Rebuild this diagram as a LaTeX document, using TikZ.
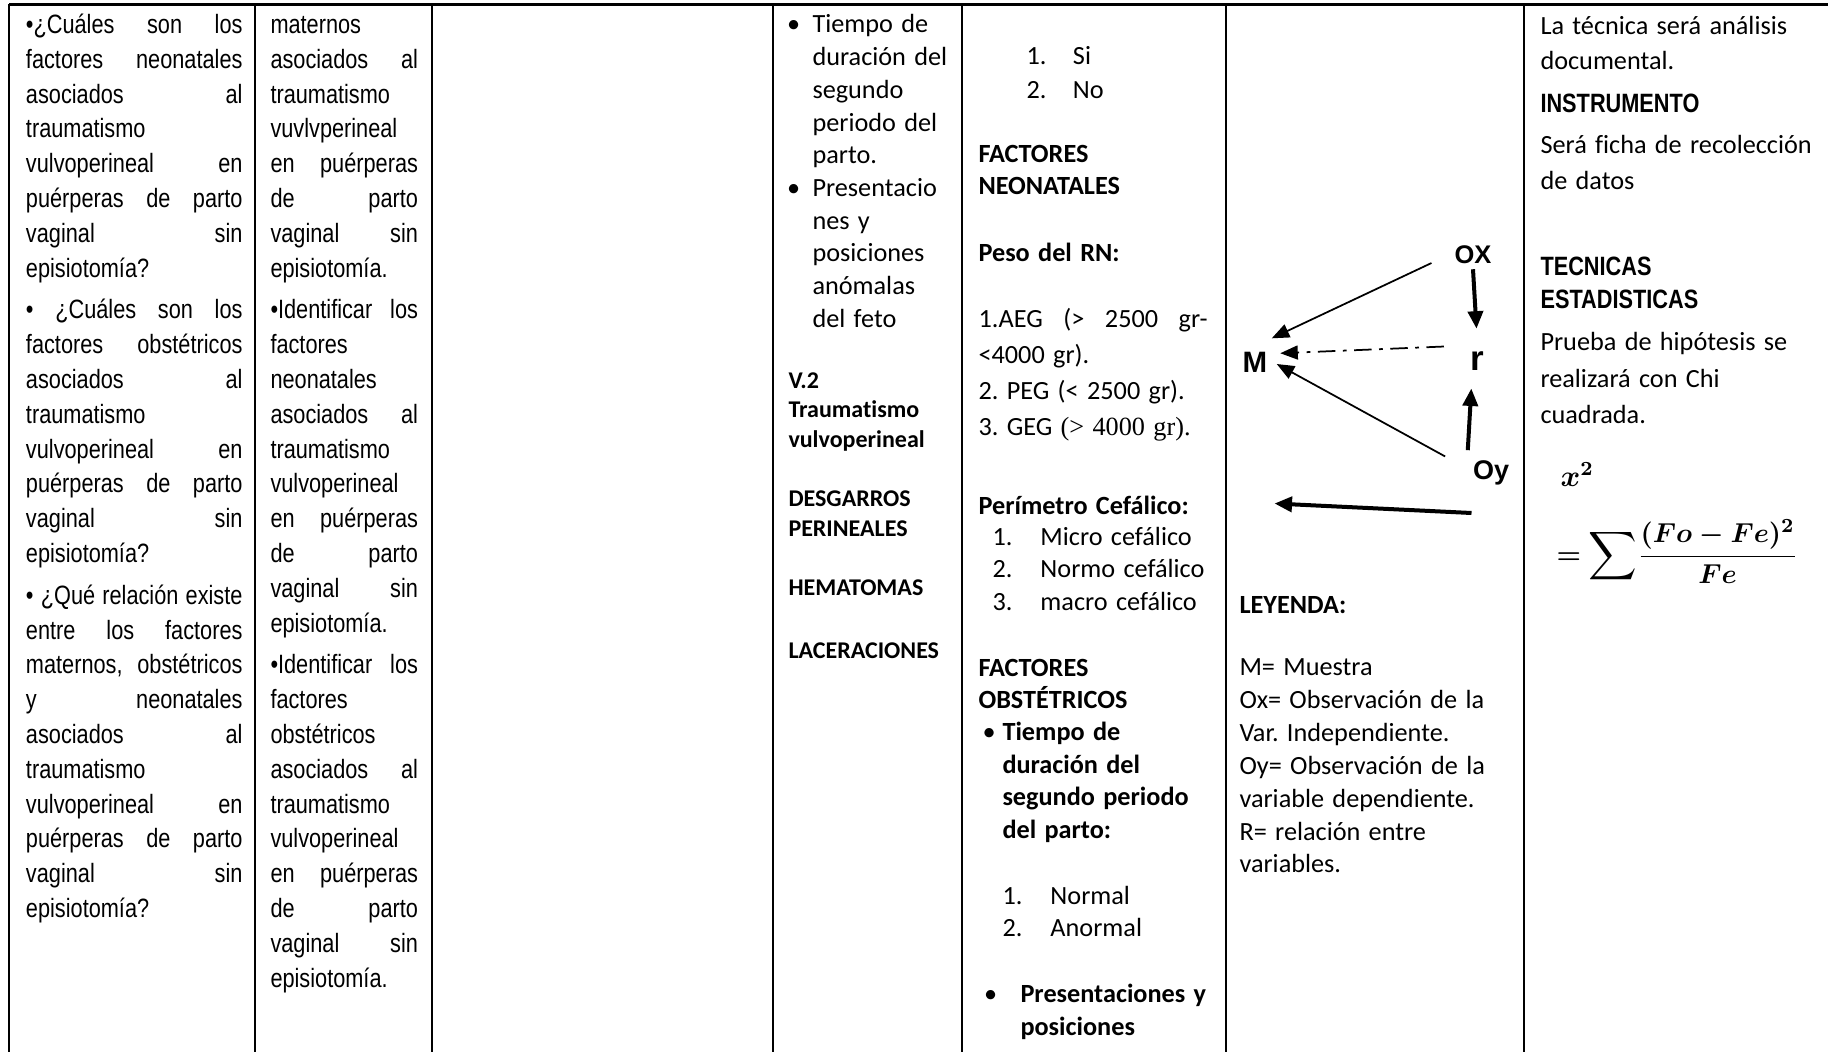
\documentclass[tikz,border=0pt]{standalone}
\usepackage[no-math]{fontspec}
\setmainfont{Carlito}[Ligatures=CommonOff]
\newfontfamily\narrowfont[FakeStretch=0.82]{Liberation Sans}
\newfontfamily\arialfont{Liberation Sans}
\newfontfamily\timesfont{Liberation Serif}
\usetikzlibrary{arrows.meta}
\tikzset{
  tabline/.style={line width=1.1pt},
  ntext/.style={inner sep=0pt, anchor=base west, align=justify, text width=#1,
    execute at begin node={\narrowfont\fontsize{10.6}{13.92}\selectfont\frenchspacing\hyphenpenalty=10000 \tolerance=10000 }},
  nhead/.style={inner sep=0pt, anchor=base west, align=left, text width=110pt,
    execute at begin node={\narrowfont\bfseries\fontsize{10.6}{#1}\selectfont}},
  nhead/.default=13.92pt,
  ctext/.style={inner sep=0pt, anchor=base west, align=left, text width=110pt,
    execute at begin node={\fontsize{10.5}{#1}\selectfont\frenchspacing}},
  ctext/.default=13.08pt,
  dnode/.style={font=\arialfont\bfseries\fontsize{10.2}{12}\selectfont, inner sep=2pt, anchor=base},
  thinarr/.style={line width=0.7pt, -{Triangle[length=7pt,width=5.6pt]}},
  thickarr/.style={line width=1.6pt, -{Triangle[length=7pt,width=6pt]}},
  dashdot/.style={thinarr, dash pattern=on 7pt off 3pt on 1.5pt off 3pt}
}
\begin{document}
\begin{tikzpicture}[x=0.4pt,y=-0.4pt]
\useasboundingbox (0,0) rectangle (1828,1052);
\draw[tabline] (9,4.5) -- (1828,4.5);
\foreach \cx in {9,255,432,773,962,1226,1524}
\draw[tabline] (\cx,4.5) -- (\cx,1052);
\node[ntext=86.6pt] (preguntas) at (25.5,33.5) {•¿Cuáles son los\linebreak factores neonatales\linebreak asociados al\linebreak traumatismo\linebreak vulvoperineal en\linebreak puérperas de parto\linebreak vaginal sin\linebreak episiotomía?\par\vspace{2.8pt}
• ¿Cuáles son los\linebreak factores obstétricos\linebreak asociados al\linebreak traumatismo\linebreak vulvoperineal en\linebreak puérperas de parto\linebreak vaginal sin\linebreak episiotomía?\par\vspace{2.8pt}
• ¿Qué relación existe\linebreak entre los factores\linebreak maternos, obstétricos\linebreak y neonatales\linebreak asociados al\linebreak traumatismo\linebreak vulvoperineal en\linebreak puérperas de parto\linebreak vaginal sin\linebreak episiotomía?};
\node[ntext=59pt] (objetivos) at (270,33.5) {maternos\linebreak asociados al\linebreak traumatismo\linebreak vuvlvperineal\linebreak en puérperas\linebreak de parto\linebreak vaginal sin\linebreak episiotomía.\par\vspace{2.8pt}
•Identificar los\linebreak factores\linebreak neonatales\linebreak asociados al\linebreak traumatismo\linebreak vulvoperineal\linebreak en puérperas\linebreak de parto\linebreak vaginal sin\linebreak episiotomía.\par\vspace{2.8pt}
•Identificar los\linebreak factores\linebreak obstétricos\linebreak asociados al\linebreak traumatismo\linebreak vulvoperineal\linebreak en puérperas\linebreak de parto\linebreak vaginal sin\linebreak episiotomía.};
\node[ctext] (bul1) at (786.5,33) {•};
\node[ctext] (bul2) at (786.5,196.5) {•};
\node[ctext] (dimobs) at (812,33) {Tiempo de\\duración del\\segundo\\periodo del\\parto.\\Presentacio\\nes y\\posiciones\\anómalas\\del feto};
\node[ctext] (vardos) at (788,388) {\fontsize{9.6}{11.88}\selectfont\bfseries V.2\\Traumatismo\\vulvoperineal\\[11.88pt]DESGARROS\\PERINEALES\\[11.88pt]HEMATOMAS\\[11.88pt]LACERACIONES};
\node[ctext=13.6pt] (sino) at (1026,65) {\makebox[18.6pt][l]{1.}Si\\\makebox[18.6pt][l]{2.}No};
\node[ctext=12.6pt] (neo) at (978,163) {\bfseries FACTORES\\NEONATALES};
\node[ctext] (peso) at (978,261.5) {\bfseries Peso del RN:};
\node[ctext=14.5pt] (pesos) at (978,327) {\hbox to 91.6pt{1.AEG\hfill(>\hfill2500\hfill gr-}\\<4000 gr).\\2. PEG (< 2500 gr).\\3. GEG {\timesfont (> 4000 gr).}};
\node[ctext] (peri) at (978,514) {\bfseries Perímetro Cefálico:};
\node[ctext=13pt] (peris) at (992,545) {\makebox[19.2pt][l]{1.}Micro cefálico\\\makebox[19.2pt][l]{2.}Normo cefálico\\\makebox[19.2pt][l]{3.}macro cefálico};
\node[ctext=12.8pt] (obs) at (978,676) {\bfseries FACTORES\\OBSTÉTRICOS};
\node[ctext] (bul3) at (982,740.5) {•};
\node[ctext] (tiempo) at (1002,740.5) {\bfseries Tiempo de\\duración del\\segundo periodo\\del parto:};
\node[ctext=13pt] (normal) at (1002,904) {\makebox[19.2pt][l]{1.}Normal\\\makebox[19.2pt][l]{2.}Anormal};
\node[ctext] (bul4) at (983.5,1002.5) {•};
\node[ctext=13pt] (presen) at (1020,1002.5) {\bfseries Presentaciones y\\posiciones};
\node[dnode, font=\arialfont\bfseries\fontsize{11.8}{14}\selectfont] (M) at (1255,372) {M};
\node[dnode] (OX) at (1473,263.5) {OX};
\node[dnode, font=\arialfont\bfseries\fontsize{14}{16}\selectfont] (r) at (1477.5,370) {r};
\node[dnode, font=\arialfont\bfseries\fontsize{10.8}{13}\selectfont] (Oy) at (1491,479.5) {Oy};
\draw[thinarr, shorten <=7.8pt, shorten >=7.4pt] (OX.west) -- (M.north);
\draw[dashdot, shorten <=8.5pt, shorten >=3pt] (r.north west) -- (M.25);
\draw[thinarr, shorten <=10.2pt, shorten >=1.8pt] (Oy.170) -- (M.east);
\draw[thickarr, shorten >=6.8pt] (OX.south) -- (r.north);
\draw[thickarr, shorten <=2pt, shorten >=5.2pt] (Oy.north west) -- (r.250);
\coordinate (flechaizq) at (1274.5,503.5);
\coordinate (flechader) at (1471.5,513);
\draw[thickarr] (flechader) -- (flechaizq);
\node[ctext] (leyenda) at (1239,613) {\bfseries LEYENDA:};
\node[ctext=13.16pt] (leyendas) at (1239,675.5) {M= Muestra\\Ox= Observación de la\\Var. Independiente.\\Oy= Observación de la\\variable dependiente.\\R= relación entre\\variables.};
\node[ctext=14pt] (tecnica) at (1540,34.5) {La técnica será análisis\\documental.};
\node[nhead] (instr) at (1540,113) {INSTRUMENTO};
\node[ctext=14pt] (ficha) at (1540,154) {Será ficha de recolección\\de datos};
\node[nhead=13.2pt] (testad) at (1540,275) {TECNICAS\\ESTADISTICAS};
\node[ctext=14.6pt] (prueba) at (1540,350.5) {Prueba de hipótesis se\\realizará con Chi\\cuadrada.};
\node[anchor=base west, inner sep=0pt, font=\boldmath\fontsize{12}{14}\selectfont] (chi) at (1560,486) {$x^{2}$};
\node[anchor=base west, inner sep=0pt, font=\boldmath\fontsize{11}{13}\selectfont] (chisum) at (1556,563) {$\displaystyle =\mkern-0.5mu\mathop{\vcenter{\hbox{\scalebox{1.35}{$\displaystyle\sum$}}}}\mkern-3mu\frac{(Fo-Fe)^{2}}{Fe}$};
\end{tikzpicture}
\end{document}
